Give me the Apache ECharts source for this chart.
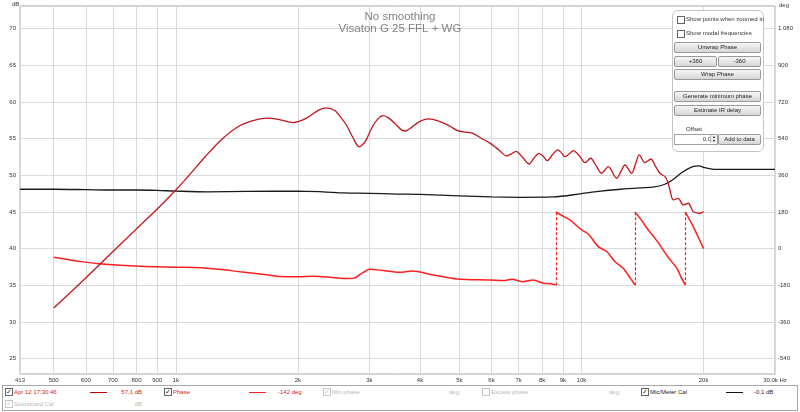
<!DOCTYPE html>
<html>
<head>
<meta charset="utf-8">
<script src="https://cdn.jsdelivr.net/npm/echarts@6.0.0/dist/echarts.min.js"></script>
<style>
body { margin: 0; background: #fff; font-family: "Liberation Sans", Arial, sans-serif; }
#wrap { position: relative; width: 800px; height: 412px; overflow: hidden; }
#chart { position: absolute; left: 0; top: 0; width: 800px; height: 412px; }
.abs { position: absolute; white-space: nowrap; font-size: 6px; line-height: 8px; }
.cb { position: absolute; width: 6px; height: 6px; border: 1px solid #666; background: #fff; font-size: 7px; line-height: 6px; text-align: center; color: #333; }
.cb.off { border-color: #c8c8c8; color: #c8c8c8; }
.btn { position: absolute; height: 9px; border: 1px solid #9a9a9a; border-radius: 2px; background: linear-gradient(#f6f6f6, #d6d6d6); font-size: 6px; line-height: 9px; text-align: center; color: #222; }
#panel { position: absolute; left: 672px; top: 10px; width: 90px; height: 140px; border: 1px solid #c4c4c4; border-radius: 6px; background: #fff; }
#legend { position: absolute; left: 2px; top: 385px; width: 794px; height: 24px; border: 1px solid #a8a8a8; background: #fff; }
.swatch { position: absolute; width: 17px; height: 1.5px; }
.red { color: #d42222; }
.gray { color: #b8b8b8; }
</style>
</head>
<body>
<div id="wrap">
  <div id="chart"></div>

  <div id="panel"></div>
  <div class="cb" style="left:677px;top:16px"></div><div class="abs" style="left:686px;top:15px;color:#333">Show points when zoomed in</div>
  <div class="cb" style="left:677px;top:30px"></div><div class="abs" style="left:686px;top:29px;color:#333">Show modal frequencies</div>
  <div class="btn" style="left:674px;top:42px;width:85px">Unwrap Phase</div>
  <div class="btn" style="left:674px;top:56px;width:41px">+360</div>
  <div class="btn" style="left:718px;top:56px;width:41px">-360</div>
  <div class="btn" style="left:674px;top:69px;width:85px">Wrap Phase</div>
  <div class="btn" style="left:674px;top:91px;width:85px">Generate minimum phase</div>
  <div class="btn" style="left:674px;top:105px;width:85px">Estimate IR delay</div>
  <div class="abs" style="left:686px;top:125px;color:#333">Offset</div>
  <div class="abs" style="left:674px;top:134px;width:36px;height:9px;border:1px solid #a0a0a0;text-align:right;padding-right:6px;line-height:9px;color:#333">0,0</div>
  <div class="abs" style="left:710px;top:135px;width:5px;height:8px;border-left:1px solid #bbb;background:#eee;font-size:4px;line-height:4px;text-align:center">▴<br>▾</div>
  <div class="btn" style="left:718px;top:134px;width:41px">Add to data</div>

  <div id="legend"></div>
  <div class="cb" style="left:5px;top:388px">✓</div><div class="abs red" style="left:14px;top:388px">Apr 12 17:30:46</div>
  <div class="swatch" style="left:90px;top:391.5px;background:#c00000"></div>
  <div class="abs red" style="left:110px;top:388px;width:32px;text-align:right">57,1 dB</div>
  <div class="cb" style="left:164px;top:388px">✓</div><div class="abs red" style="left:173px;top:388px">Phase</div>
  <div class="swatch" style="left:249px;top:391.5px;background:#ff1e1e"></div>
  <div class="abs red" style="left:278px;top:388px">-142 deg</div>
  <div class="cb off" style="left:323px;top:388px">✓</div><div class="abs gray" style="left:332px;top:388px">Min phase</div>
  <div class="abs gray" style="left:449px;top:388px">deg</div>
  <div class="cb off" style="left:482px;top:388px"></div><div class="abs gray" style="left:491px;top:388px">Excess phase</div>
  <div class="abs gray" style="left:609px;top:388px">deg</div>
  <div class="cb" style="left:641px;top:388px">✓</div><div class="abs" style="left:650px;top:388px;color:#222">Mic/Meter Cal</div>
  <div class="swatch" style="left:726px;top:391.5px;background:#111"></div>
  <div class="abs" style="left:754px;top:388px;color:#222">-0,1 dB</div>
  <div class="cb off" style="left:5px;top:400px">✓</div><div class="abs gray" style="left:14px;top:400px">Soundcard Cal</div>
  <div class="abs gray" style="left:120px;top:400px;width:22px;text-align:right">dB</div>
</div>
<script>
// frequency ticks and level/phase ticks
const freqTicks = [413, 500, 600, 700, 800, 900, 1000, 2000, 3000, 4000, 5000, 6000, 7000, 8000, 9000, 10000, 20000, 30000];
const dbTicks = [25, 30, 35, 40, 45, 50, 55, 60, 65, 70];
const degTicks = [-540, -360, -180, 0, 180, 360, 540, 720, 900, 1080];

// SPL of the measurement [Hz, dB]
const magData = [
  [500, 31.9], [600, 36.0], [700, 39.6], [800, 42.7], [900, 45.4], [1000, 48.0],
  [1078, 50], [1180, 52.5], [1297, 54.9], [1440, 56.8], [1560, 57.5], [1675, 57.8], [1800, 57.6],
  [1948, 57.2], [2100, 57.8], [2250, 58.9], [2354, 59.2], [2470, 58.8], [2560, 57.8], [2638, 56.8],
  [2730, 55.2], [2830, 53.9], [2930, 54.6], [3050, 56.6], [3150, 57.7], [3247, 58.15], [3350, 57.8],
  [3480, 57], [3600, 56.2], [3686, 56.05], [3800, 56.5], [3980, 57.3], [4192, 57.7], [4450, 57.4],
  [4741, 56.7], [4950, 56.1], [5162, 55.9], [5365, 55.8], [5650, 55.1], [5948, 54.4], [6250, 53.5],
  [6538, 52.64], [6700, 52.9], [6897, 53.28], [7150, 52.5], [7422, 51.55], [7650, 52.4], [7859, 53.0],
  [8050, 52.6], [8236, 52.0], [8480, 52.8], [8739, 53.46], [8920, 53.1], [9103, 52.55], [9320, 52.9],
  [9547, 53.36], [9870, 52.7], [10201, 51.73], [10533, 52.33], [10870, 51.3], [11213, 50.28],
  [11642, 51.18], [12213, 49.6], [12500, 50.5], [12800, 51.41], [13294, 50.28], [13600, 51.6],
  [13881, 52.78], [14335, 51.73], [14836, 52.23], [15200, 51.3], [15615, 50.28], [16060, 49.82],
  [16300, 49.2], [16525, 48.0], [16838, 46.64], [17321, 46.87], [17822, 45.96], [18335, 46.19],
  [18859, 45.05], [19590, 44.83], [20000, 45.05]
];

// Mic/Meter calibration curve [Hz, dB]
const calData = [
  [413, 48.1], [500, 48.1], [600, 48.05], [700, 48.0], [800, 48.0], [900, 47.95], [1000, 47.85],
  [1200, 47.75], [1500, 47.8], [2000, 47.85], [2300, 47.75], [2600, 47.6], [3000, 47.55],
  [3500, 47.45], [4000, 47.4], [5000, 47.2], [6000, 47.05], [7000, 47.0], [8500, 47.05],
  [10000, 47.5], [11000, 47.8], [12500, 48.1], [14000, 48.3], [15000, 48.4], [16000, 48.75],
  [16800, 49.4], [17800, 50.5], [18800, 51.2], [19500, 51.3], [20000, 51.1], [21000, 50.85],
  [23000, 50.8], [30000, 50.8]
];

// wrapped phase, one list per unwrapped stretch [Hz, deg]
const phase1 = [
  [500, -42], [592, -65], [657, -75], [816, -86], [1000, -91], [1147, -94], [1300, -103],
  [1440, -114], [1675, -128], [1806, -137], [2000, -138], [2185, -135], [2400, -140], [2590, -147],
  [2738, -146], [2880, -120], [3010, -101], [3200, -106], [3572, -116], [3809, -110], [4312, -129],
  [4927, -149], [5948, -154], [6418, -157], [6735, -150], [7181, -162], [7608, -154], [8058, -170],
  [8400, -172], [8650, -178]
];
const phase2 = [
  [8650, 180], [9000, 160], [9368, 141], [10012, 92], [10394, 72], [10998, 10], [11559, -15],
  [12093, -64], [12675, -96], [13196, -145], [13540, -178]
];
const phase3 = [
  [13540, 180], [14000, 145], [14460, 104], [15350, 38], [16255, -35], [17230, -100],
  [17600, -140], [18020, -178]
];
const phase4 = [[18020, 180], [18859, 108], [20000, 0]];
const wrapFreqs = [8650, 13540, 18020];

const chart = echarts.init(document.getElementById('chart'));

function fmtFreq(v) {
  if (v >= 30000) return '30,0k Hz';
  if (v >= 1000) return Math.round(v / 1000) + 'k';
  return String(Math.round(v));
}
function fmtDeg(v) {
  return Math.abs(v) >= 1000 ? String(v).replace(/(\d)(\d{3})$/, '$1.$2') : String(v);
}

const phaseColor = '#ff1e1e';
const phaseSeries = [phase1, phase2, phase3, phase4].map(function (seg, i) {
  const s = {
    type: 'line', yAxisIndex: 1, data: seg, showSymbol: false, smooth: 0.3,
    lineStyle: { color: phaseColor, width: 1.5 }, z: 3
  };
  if (i === 0) {
    s.markLine = {
      silent: true, symbol: ['none', 'none'], label: { show: false },
      lineStyle: { color: phaseColor, type: [3, 2], width: 1.2 },
      data: wrapFreqs.map(function (f) { return [{ coord: [f, -180] }, { coord: [f, 180] }]; })
    };
  }
  return s;
});

var option = {
  animation: false,
  title: {
    text: 'No smoothing\nVisaton G 25 FFL + WG',
    left: 'center', top: 6,
    textStyle: { fontSize: 11.5, lineHeight: 12, color: '#828282', fontWeight: 'normal', fontFamily: 'Liberation Sans' }
  },
  grid: { left: 20, right: 25, top: 6, bottom: 38, show: true, borderColor: '#a8a8a8', borderWidth: 1 },
  graphic: [
    { type: 'text', left: 12, top: 1, style: { text: 'dB', fontSize: 6, fill: '#333', fontFamily: 'Liberation Sans' } },
    { type: 'text', left: 779, top: 2, style: { text: 'deg', fontSize: 6, fill: '#333', fontFamily: 'Liberation Sans' } }
  ],
  xAxis: {
    type: 'log', min: 413, max: 30000,
    axisLine: { show: false },
    axisTick: { show: false, customValues: freqTicks },
    axisLabel: { customValues: freqTicks, formatter: fmtFreq, fontSize: 6, color: '#333', margin: 3, fontFamily: 'Liberation Sans' },
    splitLine: { show: true, lineStyle: { color: '#d9d9d9', width: 1 } }
  },
  yAxis: [
    {
      type: 'value', min: 22.9, max: 73.1, position: 'left',
      axisLine: { show: false },
      axisTick: { show: false, customValues: dbTicks },
      axisLabel: { customValues: dbTicks, fontSize: 6, color: '#333', margin: 4, fontFamily: 'Liberation Sans' },
      splitLine: { show: true, lineStyle: { color: '#d9d9d9', width: 1 } }
    },
    {
      type: 'value', min: -615.6, max: 1191.6, position: 'right',
      axisLine: { show: false },
      axisTick: { show: false, customValues: degTicks },
      axisLabel: { customValues: degTicks, formatter: fmtDeg, fontSize: 6, color: '#333', margin: 3, fontFamily: 'Liberation Sans' },
      splitLine: { show: false }
    }
  ],
  series: [
    {
      type: 'line', data: calData, showSymbol: false, smooth: 0.3,
      lineStyle: { color: '#1a1a1a', width: 1.3 }, z: 2
    },
    {
      type: 'line', data: magData, showSymbol: false, smooth: 0.3,
      lineStyle: { color: '#c3161c', width: 1.3 }, z: 4
    }
  ].concat(phaseSeries)
};

option && chart.setOption(option);
</script>
</body>
</html>
